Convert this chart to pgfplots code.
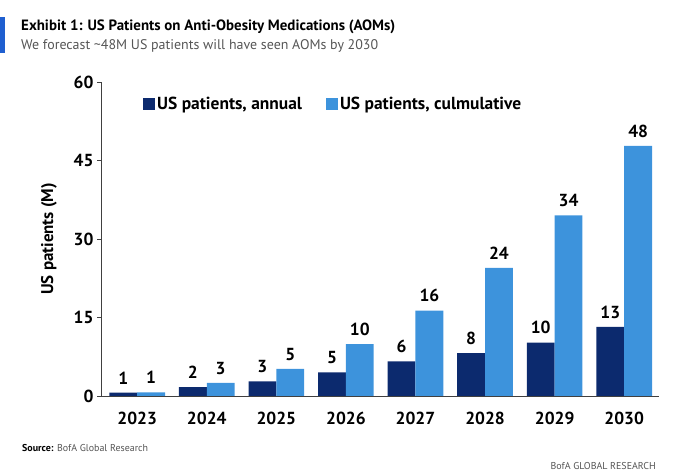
\documentclass[border=0pt]{standalone}
\usepackage{pgfplots}
\pgfplotsset{compat=1.18}
\usepackage{pgfplotstable}
\usepackage{fontspec}
\setmainfont{PT Sans}
\definecolor{navy}{HTML}{0C2A6E}
\definecolor{lblue}{HTML}{3D93DC}
\definecolor{titlebar}{HTML}{1F5FD0}
\definecolor{subgray}{HTML}{555555}
\pgfplotstableread{
x y lab
0 0.65 1
1 1.7 2
2 2.8 3
3 4.5 5
4 6.6 6
5 8.2 8
6 10.2 10
7 13.2 13
}\annual
\pgfplotstableread{
x y lab
0 0.7 1
1 2.5 3
2 5.2 5
3 9.9 10
4 16.3 16
5 24.5 24
6 34.5 34
7 47.8 48
}\cumul
\begin{document}
\begin{tikzpicture}[x=1bp,y=1bp]
\path[use as bounding box] (0,0) rectangle (690,474);
\fill[titlebar] (0,474-17) rectangle (5,474-53);
\node[anchor=west,inner sep=0pt,font=\fontsize{15}{16}\selectfont\bfseries] at (21,474-27) {Exhibit 1: US Patients on Anti-Obesity Medications (AOMs)};
\node[anchor=west,inner sep=0pt,font=\fontsize{14}{16}\selectfont,text=subgray] at (21,474-46) {We forecast \textasciitilde 48M US patients will have seen AOMs by 2030};
\node[anchor=west,inner sep=0pt,font=\fontsize{10}{12}\selectfont] at (22,474-448) {\textbf{Source:} \textcolor{subgray}{BofA Global Research}};
\node[anchor=east,inner sep=0pt,font=\fontsize{10}{12}\selectfont,text=subgray] at (656,474-466) {BofA GLOBAL RESEARCH};
\begin{axis}[
  at={(101bp,78bp)}, anchor=south west,
  scale only axis, width=558bp, height=314bp,
  ybar=0pt, bar width=0.4,
  xmin=-0.52, xmax=7.5, ymin=0, ymax=60,
  axis x line*=bottom, axis y line*=left,
  axis line style={draw=black!75, line width=0.8pt},
  xtick={0,...,7}, xticklabels={2023,2024,2025,2026,2027,2028,2029,2030},
  xtick style={draw=none},
  ytick={0,15,30,45,60},
  ytick style={draw=black!75, line width=0.8pt},
  tick align=outside, major tick length=4bp,
  ticklabel style={font=\fontsize{17.5}{18}\selectfont\bfseries},
  /pgf/number format/assume math mode=true,
  xticklabel style={yshift=-9bp},
  ylabel={US patients (M)},
  ylabel style={font=\fontsize{17}{18}\selectfont\bfseries, yshift=10bp},
  nodes near coords, point meta=explicit symbolic,
  every node near coord/.append style={font=\fontsize{17.5}{18}\selectfont\bfseries, yshift=5bp},
  legend style={draw=none, fill=none, at={(0.07,0.965)}, anchor=north west,
    font=\fontsize{17.5}{18}\selectfont\bfseries, legend columns=2,
    /tikz/every even column/.append style={column sep=22bp}},
  legend image code/.code={\fill[#1] (0bp,-6bp) rectangle (12bp,6bp);},
]
\addplot[fill=navy, draw=none] table[x=x,y=y,meta=lab] {\annual};
\addplot[fill=lblue, draw=none] table[x=x,y=y,meta=lab] {\cumul};
\legend{{US patients, annual}, {US patients, culmulative}}
\end{axis}
\end{tikzpicture}
\end{document}
